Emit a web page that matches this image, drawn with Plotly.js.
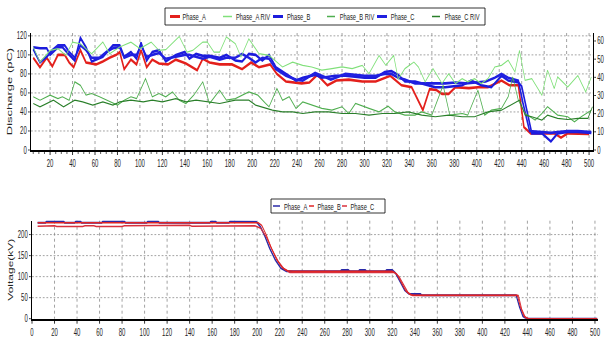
<!DOCTYPE html>
<html><head><meta charset="utf-8">
<script src="https://cdn.plot.ly/plotly-3.0.1.min.js"></script>
<style>
html,body{margin:0;padding:0;background:#fff;overflow:hidden}
#wrap{width:605px;height:338px;overflow:hidden}
#chart{width:1008px;height:338px;transform:scaleX(0.6002);transform-origin:0 0}
</style>
</head><body><div id="wrap"><div id="chart"></div></div>
<script>
// ---------- Top chart: discharge (pC) and RIV ----------
const paX = [5,11,17,22,27,33,37,41,47,52,61,67,73,79,82,86,92,97,101,106,111,117,125,132,141,151,156,162,171,182,191,199,206,216,222,230,244,251,258,267,275,286,298,310,323,333,342,352,358,364,369,375,381,393,401,410,422,429,437,442,448,463,469,475,481,500];
const paY = [97,87,97,88,100,100,92,87,105,92,90,93,97,100,103,85,95,90,105,87,95,91,90,95,91,84,96,92,90,90,85,92,87,90,80,72,70,71,79,68,73,74,72,72,78,68,66,42,64,63,59,59,66,65,66,66,73,68,68,24,17.5,17,17.5,13,17.5,17];

const pbX = [5,11,17,20,27,31,37,42,47,52,57,64,67,76,82,86,92,97,101,106,111,117,123,132,140,144,150,156,162,171,177,185,191,197,203,209,215,221,230,239,245,256,262,274,283,292,300,310,318,324,330,336,345,354,363,372,378,387,395,404,413,422,428,437,440,449,458,466,472,481,490,502];
const pbY = [108,107,107,100,108,108,100,94,118,108,93,97,98,110,110,98,103,96,113,94,103,105,93,100,103,96,101,99,99,97,100,94,93,101,100,94,100,87,80,73,76,79,76,78,78,77,76,76,82,83,79,72,72,69,66,66,67,68,73,68,66,78,73,71,67,17.5,17.5,9,17.5,19,19,18];

const pcX = [5,11,17,22,27,33,37,42,47,52,57,64,70,76,82,86,92,97,101,106,111,117,123,132,140,144,150,156,162,171,177,185,191,197,203,209,215,221,230,239,245,256,262,270,283,292,300,310,318,324,330,336,345,354,363,372,381,390,399,408,416,422,428,437,441,447,458,466,472,481,490,502];
const pcY = [106,92,98,105,110,110,103,97,110,105,97,97,103,107,108,97,100,100,110,98,100,102,96,98,100,100,98,96,98,95,97,97,101,97,92,97,96,85,78,74,73,81,78,74,80,79,78,78,80,80,76,74,70,70,70,70,71,70,71,72,76,80,76,73,50,20,19,18,19,20,20,19];

const raX = [5,11,20,27,34,40,47,57,67,73,82,92,100,110,117,123,135,142,147,156,160,166,171,177,185,190,197,206,215,227,236,245,253,262,271,280,289,298,304,313,319,326,330,336,344,348,354,361,369,375,381,387,392,398,404,410,416,422,428,434,438,443,449,458,463,469,472,481,490,497,502];
const raY = [56.7,48.4,54.8,55.8,52.1,59.4,58.5,53,59.4,53,56.7,59.4,55.8,59.4,54.8,55.2,62.5,53.9,54.8,59.4,59.4,53.9,53.9,62.2,58.5,51.2,61.2,53,52.1,45.7,48.4,46.6,45.7,44,44.8,45.7,44.8,46.6,42,52,46.6,52,39,44.8,48.4,45.7,37.5,44.8,36.6,42,36.6,39.3,37.5,39.3,36.6,39.3,45.7,46.6,49.4,43,54.8,38.4,39.3,30.2,43.9,33.8,40.2,34.7,41,32,40.2];

const rbX = [5,11,20,27,31,37,42,47,52,57,64,76,80,86,92,97,105,111,117,123,129,135,141,148,156,162,171,177,185,197,205,212,215,222,227,233,239,245,253,262,271,280,286,292,304,313,321,327,336,345,351,360,370,376,387,392,401,407,413,422,428,432,437,443,452,458,463,472,481,487,493,502];
const rbY = [29.3,27.4,30.2,28.3,29.3,27.4,37.5,35.6,30.2,31.1,29.3,25.6,24.7,27.4,29.3,28.3,39.3,29.3,31.1,29.3,32,27.4,25.6,30.2,37.5,25.6,32.9,27.4,28.3,32,30.2,25.6,23.8,33.8,27.4,29.3,22.9,26.5,24.7,22.9,21.9,23.8,20.1,25.6,22.9,21,24.1,21,19.2,19.2,21,19.2,35.6,19.2,20.1,19.2,32.9,19.2,21.9,22.9,29.3,40.2,27.4,20.1,16.5,20.1,23.8,19.2,18.3,15.5,18.3,21.9];

const rcX = [5,11,23,32,42,49,58,67,76,82,92,103,111,120,132,141,150,159,171,185,197,203,212,218,227,236,245,256,268,280,292,304,316,327,339,351,363,375,387,398,410,422,438,443,449,458,463,472,481,490,499,503];
const rcY = [25.6,23.8,27.4,23.8,27.4,26.5,24.7,26.5,24.7,26.5,27.4,26.5,27.4,26.5,28.3,26.5,27.4,26.5,25.6,27.4,27.4,24.7,22.9,21.9,21,21,20.1,21,21,20.1,20.1,19.2,20.1,20.1,21,19.2,18.3,19.2,18.3,18.3,21,21.9,27.4,19.2,18.3,16.5,19.2,17.4,16.8,17.4,17.4,23.8];

const topNames  = ['Phase_A','Phase_A RIV','Phase_B','Phase_B RIV','Phase_C','Phase_C RIV'];
const topColors = ['#e3201c','#80e07a','#1c1cdc','#4fae4f','#2020e0','#2a7f2a'];

// ---------- Bottom chart: voltage (kV) ----------
const vaX = [5,12,13,28,29,38,39,43,44,62,63,82,83,102,103,112,113,158,159,163,164,175,176,199,203,207,211,216,221,226,232,274,275,281,282,290,291,296,297,314,315,320,323,327,331,335,339,345,346,430,433,436,439,502];
const vaY = [228,228,232,232,228,228,232,232,228,228,232,232,228,228,232,232,228,228,232,232,228,228,232,231,218,195,168,140,120,113,113,113,116,116,113,113,116,116,113,113,116,116,108,88,68,59,59,59,56,56,28,6,0,0];

const vbX = [5,30,31,60,61,100,101,130,131,201,204,208,212,217,222,227,232,320,324,328,332,336,340,431,434,437,440,502];
const vbY = [228,228,229,229,228,228,229,229,228,228,222,200,172,142,122,114,113,113,106,85,66,57,56,56,26,6,0,0];

const vcX = [5,20,22,45,47,55,57,80,82,100,102,140,142,160,162,198,203,208,213,219,224,229,235,322,326,330,334,338,342,432,435,438,441,502];
const vcY = [220,221,219,219,221,221,219,219,221,221,222,222,220,220,221,221,215,195,165,135,118,110,110,110,100,80,62,55,55,55,22,4,0,0];

const botNames  = ['Phase_A','Phase_B','Phase_C'];
const botColors = ['#2a2aa8','#e02424','#d8303c'];

// ---------- traces ----------
const line = (x,y,name,color,width,xa,ya)=>({type:'scatter',mode:'lines',x:x,y:y,name:name,
  line:{color:color,width:width},xaxis:xa,yaxis:ya,hoverinfo:'skip'});

const data = [
  line(raX,raY,topNames[1],topColors[1],1.2,'x','y2'),
  line(rbX,rbY,topNames[3],topColors[3],1.2,'x','y2'),
  line(rcX,rcY,topNames[5],topColors[5],1.2,'x','y2'),
  line(paX,paY,topNames[0],topColors[0],2.6,'x','y'),
  line(pbX,pbY,topNames[2],topColors[2],2.6,'x','y'),
  line(pcX,pcY,topNames[4],topColors[4],2.6,'x','y'),
  line(vaX,vaY,botNames[0],botColors[0],2,'x2','y3'),
  line(vcX,vcY,botNames[2],botColors[2],1.5,'x2','y3'),
  line(vbX,vbY,botNames[1],botColors[1],1.5,'x2','y3')
];

// ---------- layout ----------
const W=605,H=338;
const px=v=>v/W, py=v=>1-v/H;
const axBase = {showline:true,linecolor:'#000',linewidth:2,ticks:'outside',ticklen:3,tickcolor:'#000',
  zeroline:false,showgrid:true,gridcolor:'#8a8a8a',griddash:'dot',gridwidth:1,
  tickfont:{size:10,color:'#222'}};

// compact legends
const shapes=[], annotations=[];
function legend(box,items){
  shapes.push({type:'rect',xref:'paper',yref:'paper',x0:px(box[0]),x1:px(box[1]),y0:py(box[3]),y1:py(box[2]),
    line:{color:'#000',width:1},fillcolor:'#fff',layer:'above'});
  const yc=(box[2]+box[3])/2;
  items.forEach(it=>{
    shapes.push({type:'line',xref:'paper',yref:'paper',x0:px(it.l0),x1:px(it.l1),y0:py(yc),y1:py(yc),
      line:{color:it.color,width:it.w},layer:'above'});
    annotations.push({xref:'paper',yref:'paper',x:px(it.t),y:py(yc),xanchor:'left',yanchor:'middle',
      text:it.name,showarrow:false,borderpad:0,font:{size:9.6,color:'#222'}});
  });
}
legend([165,485,8,25],[
  {l0:170,l1:180,t:182,name:topNames[0],color:topColors[0],w:3},
  {l0:223,l1:232,t:235,name:topNames[1],color:topColors[1],w:1.5},
  {l0:273,l1:283,t:286,name:topNames[2],color:topColors[2],w:3},
  {l0:327,l1:335,t:339,name:topNames[3],color:topColors[3],w:1.5},
  {l0:377,l1:387,t:390,name:topNames[4],color:topColors[4],w:3},
  {l0:432,l1:440,t:444,name:topNames[5],color:topColors[5],w:1.5}
]);
legend([271,385,199,213],[
  {l0:273,l1:280,t:283,name:botNames[0],color:botColors[0],w:1.5},
  {l0:309,l1:314,t:317,name:botNames[1],color:botColors[1],w:1.5},
  {l0:342,l1:347,t:350,name:botNames[2],color:botColors[2],w:1.5}
]);

const layout = {
  width:1008,height:338,margin:{l:0,r:0,t:0,b:0},
  paper_bgcolor:'#fff',plot_bgcolor:'#fff',showlegend:false,
  font:{family:'Liberation Sans, Arial, sans-serif',size:10,color:'#222'},
  xaxis:Object.assign({},axBase,{domain:[px(31),px(593)],range:[3,503.5],anchor:'y',tick0:0,dtick:20,
    minor:{dtick:5,ticks:'outside',ticklen:2,tickcolor:'#333',showgrid:false}}),
  yaxis:Object.assign({},axBase,{domain:[py(150),py(33)],range:[0,123],dtick:20,anchor:'x',
    title:{text:'Discharge (pC)',font:{size:13,color:'#222'},standoff:4}}),
  yaxis2:Object.assign({},axBase,{overlaying:'y',side:'right',anchor:'x',range:[0,64.4],dtick:10,showgrid:false}),
  xaxis2:Object.assign({},axBase,{domain:[px(32),px(598)],range:[0,502.7],anchor:'y3',tick0:0,dtick:20}),
  yaxis3:Object.assign({},axBase,{domain:[py(318.7),py(220.7)],range:[0,233],dtick:50,anchor:'x2',
    title:{text:'Voltage(kV)',font:{size:12,color:'#222'},standoff:4}}),
  shapes:shapes,annotations:annotations
};

Plotly.newPlot('chart',data,layout,{staticPlot:true,displayModeBar:false});
</script></body></html>
